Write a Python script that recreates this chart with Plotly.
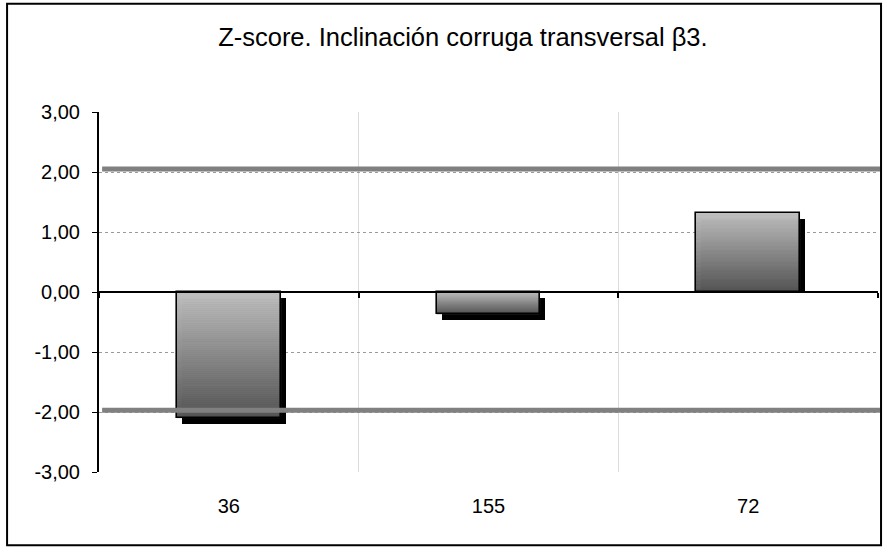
import plotly.graph_objects as go

# ---- data ----
categories = ["36", "155", "72"]
zscores = [-2.10, -0.37, 1.32]
limit_values = [2.05, -1.97]
y_ticks = [-3, -2, -1, 0, 1, 2, 3]
y_tick_labels = [f"{v:.2f}".replace(".", ",") for v in y_ticks]
title_text = "Z-score. Inclinación corruga transversal β3."

FONT = "Liberation Sans, Arial, sans-serif"
BAR_W = 0.4
N_SEG = 60
SHADOW_DX = 0.019   # category units
SHADOW_DY = 0.1     # data units
TOP_RGB = (192, 192, 192)
BOT_RGB = (85, 85, 85)


def mix(t):
    c = [round(TOP_RGB[i] + (BOT_RGB[i] - TOP_RGB[i]) * t) for i in range(3)]
    return f"rgb({c[0]},{c[1]},{c[2]})"


fig = go.Figure()

# shadows
sh_base, sh_len = [], []
for v in zscores:
    top = v - SHADOW_DY
    bot = -SHADOW_DY if v < 0 else 0.0
    lo, hi = min(top, bot), max(top, bot)
    sh_base.append(lo)
    sh_len.append(hi - lo)
fig.add_trace(go.Bar(x=categories, y=sh_len, base=sh_base, width=BAR_W,
                     offset=-BAR_W / 2 + SHADOW_DX,
                     marker=dict(color="black", line=dict(width=0)),
                     hoverinfo="skip", showlegend=False))

# gradient segments
for k in range(N_SEG):
    bases, lens, cols = [], [], []
    for v in zscores:
        seg = v / N_SEG
        bases.append(seg * k)
        lens.append(seg)
        frac_from_zero = (k + 0.5) / N_SEG
        t = frac_from_zero if v < 0 else 1 - frac_from_zero
        cols.append(mix(t))
    fig.add_trace(go.Bar(x=categories, y=lens, base=bases, width=BAR_W,
                         marker=dict(color=cols, line=dict(width=0.8, color=cols)),
                         hoverinfo="skip", showlegend=False))

# outline
fig.add_trace(go.Bar(x=categories, y=zscores, width=BAR_W,
                     marker=dict(color="rgba(0,0,0,0)", line=dict(width=1.6, color="black")),
                     showlegend=False, hovertemplate="%{x}: %{y:.2f}<extra></extra>"))

# invisible trace to carry the zero-line axis
fig.add_trace(go.Scatter(x=categories, y=zscores, xaxis="x2", mode="markers",
                         marker=dict(opacity=0), hoverinfo="skip", showlegend=False))

# limit lines
for lv in limit_values:
    fig.add_shape(type="line", xref="paper", yref="y", x0=0.004, x1=1.003,
                  y0=lv, y1=lv, line=dict(color="#808080", width=5), layer="above")

# outer frame
fig.add_shape(type="rect", xref="paper", yref="paper",
              x0=-0.118, x1=1.0039, y0=-0.2033, y1=1.3008,
              line=dict(color="black", width=2), fillcolor="rgba(0,0,0,0)", layer="above")

fig.update_layout(
    width=885, height=547,
    margin=dict(l=99, r=7, t=112, b=75, autoexpand=False),
    paper_bgcolor="white", plot_bgcolor="white",
    barmode="overlay", bargap=0,
    font=dict(family=FONT, color="black", size=20),
    title=dict(text=title_text, x=0.523, xanchor="center", xref="container",
               y=1 - 37 / 547, yanchor="middle", yref="container",
               font=dict(family=FONT, size=25.5, color="black")),
    xaxis=dict(type="category", categoryorder="array", categoryarray=categories,
               range=[-0.5, 2.5], showline=False, ticks="", tickson="boundaries",
               showgrid=True, gridcolor="#dcdcdc", gridwidth=1,
               tickfont=dict(size=20, family=FONT, color="black"),
               ticklabelstandoff=20, zeroline=False, automargin=False),
    xaxis2=dict(type="category", categoryorder="array", categoryarray=categories,
                overlaying="x", matches="x", anchor="free", position=0.5,
                showline=True, linecolor="black", linewidth=1.5,
                ticks="outside", ticklen=5, tickwidth=1.5, tickcolor="black",
                tickson="boundaries", showticklabels=False, showgrid=False,
                zeroline=False, automargin=False),
    yaxis=dict(range=[-3, 3], tickvals=y_ticks, ticktext=y_tick_labels,
               showline=True, linecolor="black", linewidth=2,
               ticks="outside", ticklen=5, tickcolor="black", tickwidth=1,
               showgrid=True, gridcolor="#9a9a9a", griddash="dot", gridwidth=1,
               zeroline=False, automargin=False,
               tickfont=dict(size=20, family=FONT, color="black"),
               ticklabelstandoff=8),
)

fig.write_html("out.html", config={"displayModeBar": False},
               post_script="document.body.style.margin='0';document.body.style.padding='0';")
